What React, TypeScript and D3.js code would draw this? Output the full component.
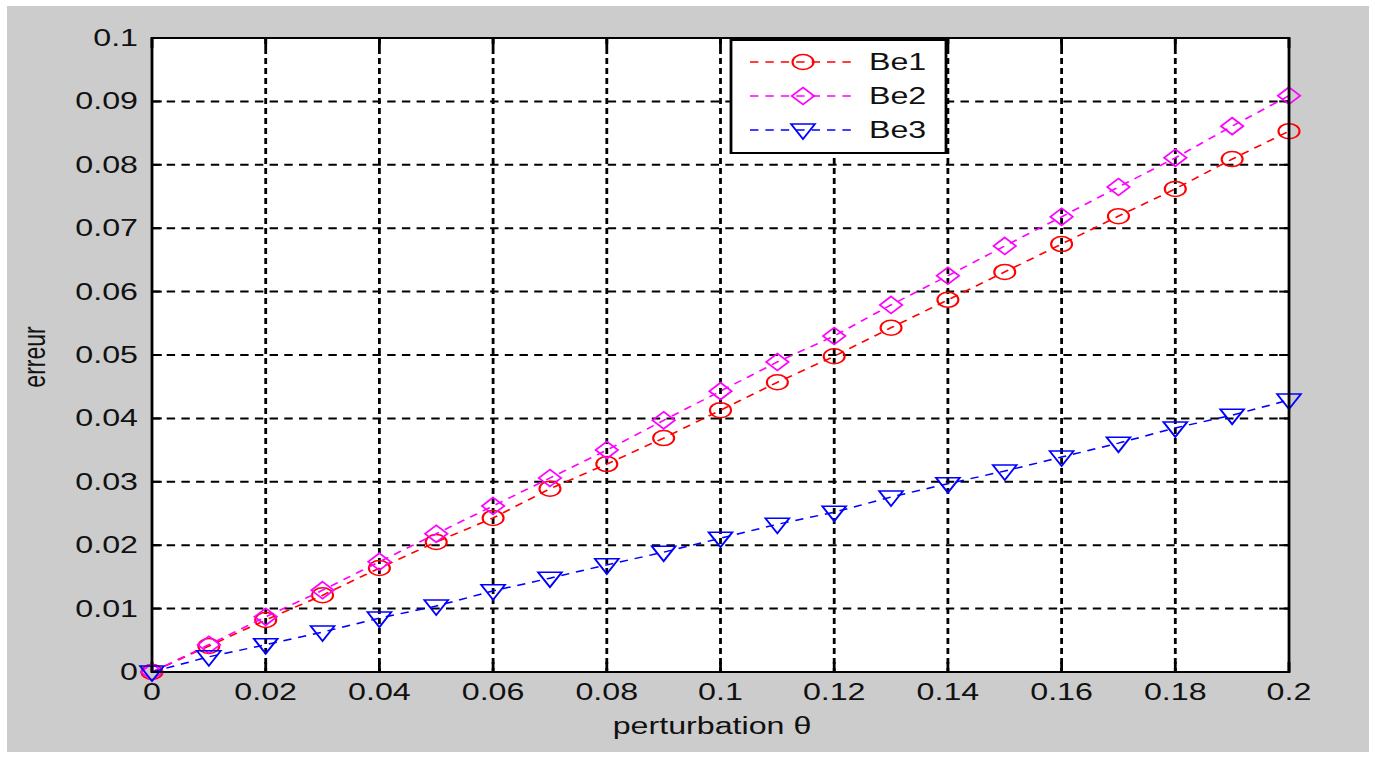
import * as d3 from "d3";

// perturbation values (x)
const theta = [0, 0.01, 0.02, 0.03, 0.04, 0.05, 0.06, 0.07, 0.08, 0.09, 0.1, 0.11, 0.12, 0.13, 0.14, 0.15, 0.16, 0.17, 0.18, 0.19, 0.2];

// error series
const be1 = [0, 0.0041, 0.0082, 0.0121, 0.0164, 0.0205, 0.0243, 0.0289, 0.0328, 0.0369, 0.0413, 0.0457, 0.0498, 0.0543, 0.0587, 0.0631, 0.0675, 0.0719, 0.0762, 0.0809, 0.0853];
const be2 = [0, 0.0043, 0.0087, 0.0129, 0.0174, 0.0218, 0.0262, 0.0306, 0.035, 0.0397, 0.0443, 0.0489, 0.053, 0.0579, 0.0625, 0.0672, 0.0718, 0.0765, 0.0811, 0.0861, 0.0909];
const be3 = [0, 0.0024, 0.0043, 0.0063, 0.0085, 0.0104, 0.0128, 0.0148, 0.0169, 0.0189, 0.0211, 0.0233, 0.0252, 0.0276, 0.0297, 0.0317, 0.0339, 0.0361, 0.0385, 0.0405, 0.0429];

const seriesNames = ["Be1", "Be2", "Be3"];
const seriesColors = ["#ff0000", "#ff00ff", "#0000ff"];
const seriesMarkers = ["circle", "diamond", "triangle"];

const xTicks = [0, 0.02, 0.04, 0.06, 0.08, 0.1, 0.12, 0.14, 0.16, 0.18, 0.2];
const yTicks = [0, 0.01, 0.02, 0.03, 0.04, 0.05, 0.06, 0.07, 0.08, 0.09, 0.1];

const W = 1379;
const H = 758;
const SX = 1.4; // picture is stretched horizontally
const font = "'Liberation Sans', Arial, sans-serif";

function Marker({ kind, x, y, color }: { kind: string; x: number; y: number; color: string }) {
  if (kind === "circle")
    return <circle cx={x} cy={y} r={7.5} fill="none" stroke={color} strokeWidth={1.5} />;
  if (kind === "diamond")
    return (
      <path
        d={`M${x},${y - 8.5}L${x + 8},${y}L${x},${y + 8.5}L${x - 8},${y}Z`}
        fill="none"
        stroke={color}
        strokeWidth={1.5}
      />
    );
  return (
    <path
      d={`M${x - 8.5},${y - 6}L${x + 8.5},${y - 6}L${x},${y + 9}Z`}
      fill="none"
      stroke={color}
      strokeWidth={1.5}
    />
  );
}

export default function App() {
  const left = 152 / SX;
  const right = 1289 / SX;
  const top = 38;
  const bottom = 672;

  const x = d3.scaleLinear().domain([0, 0.2]).range([left, right]);
  const y = d3.scaleLinear().domain([0, 0.1]).range([bottom, top]);

  const data = [be1, be2, be3];
  const line = d3
    .line<number>()
    .x((_, i) => x(theta[i]))
    .y((d) => y(d));

  const fmt = (v: number) => String(+v.toFixed(2));

  // legend box
  const lgX0 = 731 / SX;
  const lgX1 = 946 / SX;
  const lgRows = [62, 96, 130];

  return (
    <svg
      width={W}
      height={H}
      style={{ position: "absolute", left: 0, top: 0, background: "#fff" }}
    >
      <g transform={`scale(${SX},1)`}>
        <rect x={7 / SX} y={6} width={(1369 - 7) / SX} height={746} fill="#cccccc" />
        <rect x={left} y={top} width={right - left} height={bottom - top} fill="#fff" />

        {/* grid */}
        {xTicks.slice(1, -1).map((t) => (
          <line key={"gx" + t} x1={x(t)} x2={x(t)} y1={top} y2={bottom}
            stroke="#000" strokeWidth={2} strokeDasharray="6,4" />
        ))}
        {yTicks.slice(1, -1).map((t) => (
          <line key={"gy" + t} x1={left} x2={right} y1={y(t)} y2={y(t)}
            stroke="#000" strokeWidth={2} strokeDasharray="6,4.5" />
        ))}

        {/* ticks on all sides */}
        {xTicks.map((t) => (
          <g key={"tx" + t}>
            <line x1={x(t)} x2={x(t)} y1={bottom} y2={bottom - 10} stroke="#000" strokeWidth={2} />
            <line x1={x(t)} x2={x(t)} y1={top} y2={top + 10} stroke="#000" strokeWidth={2} />
          </g>
        ))}
        {yTicks.map((t) => (
          <g key={"ty" + t}>
            <line x1={left} x2={left + 7} y1={y(t)} y2={y(t)} stroke="#000" strokeWidth={2} />
            <line x1={right} x2={right - 7} y1={y(t)} y2={y(t)} stroke="#000" strokeWidth={2} />
          </g>
        ))}

        {/* series */}
        {data.map((s, k) => (
          <g key={seriesNames[k]}>
            <path d={line(s) || ""} fill="none" stroke={seriesColors[k]} strokeWidth={1.5}
              strokeDasharray="6,5" />
            {s.map((v, i) => (
              <Marker key={i} kind={seriesMarkers[k]} x={x(theta[i])} y={y(v)} color={seriesColors[k]} />
            ))}
          </g>
        ))}

        {/* box */}
        <rect x={left} y={top} width={right - left} height={bottom - top} fill="none"
          stroke="#000" strokeWidth={2} />

        {/* tick labels */}
        {xTicks.map((t) => (
          <text key={"lx" + t} x={x(t)} y={700} textAnchor="middle" fontFamily={font}
            fontSize={23} fill="#111">{fmt(t)}</text>
        ))}
        {yTicks.map((t) => (
          <text key={"ly" + t} x={138 / SX} y={y(t) + 8} textAnchor="end" fontFamily={font}
            fontSize={23} fill="#111">{fmt(t)}</text>
        ))}

        {/* axis titles */}
        <text x={712 / SX} y={734} textAnchor="middle" fontFamily={font} fontSize={23} fill="#111">
          perturbation θ
        </text>
        <text transform={`translate(${45 / SX},357) rotate(-90)`} textAnchor="middle"
          fontFamily={font} fontSize={23} fill="#111">erreur</text>

        {/* legend */}
        <rect x={lgX0} y={40} width={lgX1 - lgX0} height={113} fill="#fff" stroke="#000" strokeWidth={2} />
        {seriesNames.map((n, k) => (
          <g key={"lg" + n}>
            <line x1={750 / SX} x2={853 / SX} y1={lgRows[k]} y2={lgRows[k]}
              stroke={seriesColors[k]} strokeWidth={1.5} strokeDasharray="6,5" />
            <Marker kind={seriesMarkers[k]} x={803 / SX} y={lgRows[k]} color={seriesColors[k]} />
            <text x={869 / SX} y={lgRows[k] + 8} fontFamily={font} fontSize={23} fill="#111">{n}</text>
          </g>
        ))}
      </g>
    </svg>
  );
}
